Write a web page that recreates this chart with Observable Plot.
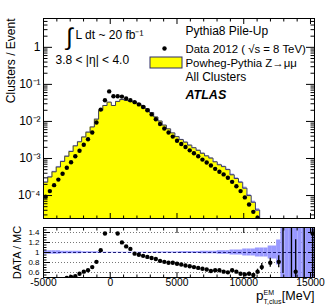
<!DOCTYPE html>
<html><head><meta charset="utf-8">
<script src="https://cdn.jsdelivr.net/npm/d3@7"></script>
<script src="https://cdn.jsdelivr.net/npm/@observablehq/plot@0.6"></script>
<style>
body{margin:0;background:#fff;}
#c{position:relative;width:329px;height:305px;background:#fff;}
#c svg{position:absolute;left:0;overflow:visible;}
</style></head><body><div id="c"></div>
<script>
// bin edges (MeV)
const binEdges = [-5000,-4682.5,-4365,-4047.5,-3730,-3412.5,-3095,-2777.5,-2460,-2142.5,-1825,-1507.5,-1190,-872.5,-555,-237.5,80,397.5,715,1032.5,1350,1667.5,1985,2302.5,2620,2937.5,3255,3572.5,3890,4207.5,4525,4842.5,5160,5477.5,5795,6112.5,6430,6747.5,7065,7382.5,7700,8017.5,8335,8652.5,8970,9287.5,9605,9922.5,10240,10557.5,10875,11192.5,11510,11827.5,12145,12462.5,12780,13097.5,13415,13732.5,14050,14367.5,14685,15002.5,15320];
// log10(Clusters / Event), data 2012
const dataLog10 = [-4.03,-3.88,-3.72,-3.57,-3.41,-3.25,-3.10,-2.94,-2.79,-2.63,
 -2.48,-2.30,-2.03,-1.68,-1.43,-1.19,-1.32,-1.32,-1.33,-1.38,
 -1.43,-1.48,-1.54,-1.61,-1.70,-1.81,-1.94,-2.07,-2.19,-2.30,
 -2.41,-2.52,-2.61,-2.69,-2.78,-2.86,-2.94,-3.03,-3.11,-3.19,
 -3.28,-3.36,-3.43,-3.52,-3.63,-3.75,-3.88,-4.05,-4.24,-4.44,
 -4.60,-4.90,null,-5.15,null,-5.44,-5.27,null,-5.44,-6.01,
 null,-5.72,null,-6.06];
// log10(Clusters / Event), Powheg-Pythia Z->mumu MC
const mcLog10 = [-3.64,-3.50,-3.36,-3.23,-3.08,-2.94,-2.81,-2.66,-2.55,-2.42,
 -2.29,-2.15,-1.94,-1.70,-1.57,-1.48,-1.57,-1.46,-1.41,-1.43,
 -1.46,-1.47,-1.52,-1.58,-1.66,-1.76,-1.88,-1.99,-2.10,-2.20,
 -2.31,-2.41,-2.49,-2.56,-2.64,-2.71,-2.78,-2.86,-2.93,-2.99,
 -3.09,-3.17,-3.22,-3.30,-3.44,-3.54,-3.64,-3.80,-4.00,-4.18,
 -4.39,-4.75,-4.90,-5.05,-5.20,-5.35,-5.50,-5.60,-5.70,-5.80,
 -5.90,-6.00,-6.10,-6.20];
// absolute uncertainty on DATA/MC
const ratioErr = [0.01,0.01,0.01,0.01,0.01,0.01,0.01,0.01,0.01,0.01,
 0.01,0.01,0.01,0.01,0.01,0.01,0.01,0.01,0.01,0.01,
 0.01,0.01,0.01,0.01,0.01,0.01,0.01,0.01,0.01,0.01,
 0.01,0.01,0.01,0.01,0.01,0.01,0.01,0.01,0.01,0.01,
 0.01,0.01,0.01,0.01,0.01,0.01,0.02,0.02,0.03,0.03,
 0.05,0.07,0,0.09,0,0.12,1.12,0,1.5,0.64,
 0,1.5,0,1.0];
// relative MC statistical uncertainty
const mcRelErr = [0.035,0.035,0.035,0.035,0.025,0.025,0.025,0.025,0.025,0.015,
 0.015,0.015,0.015,0.006,0.006,0.006,0.006,0.006,0.006,0.006,
 0.006,0.006,0.006,0.006,0.006,0.006,0.012,0.012,0.012,0.012,
 0.012,0.012,0.018,0.018,0.018,0.018,0.018,0.025,0.025,0.025,
 0.025,0.035,0.035,0.035,0.05,0.05,0.05,0.07,0.07,0.07,
 0.09,0.09,0.09,0.13,0.13,0.25,1,1,1,1,
 1,1,1,1];

const xMajor = [-5000,0,5000,10000,15000];
const xMinor = [-4000,-3000,-2000,-1000,1000,2000,3000,4000,6000,7000,8000,9000,11000,12000,13000,14000];
const yMajor = [1e-4,1e-3,1e-2,1e-1,1];
const yMinor = [3e-5,4e-5,5e-5,6e-5,7e-5,8e-5,9e-5,2e-4,3e-4,4e-4,5e-4,6e-4,7e-4,8e-4,9e-4,
 2e-3,3e-3,4e-3,5e-3,6e-3,7e-3,8e-3,9e-3,2e-2,3e-2,4e-2,5e-2,6e-2,7e-2,8e-2,9e-2,
 0.2,0.3,0.4,0.5,0.6,0.7,0.8,0.9,2,3,4,5];
const ratioMajor = [0.6,0.8,1,1.2,1.4];
const ratioMinor = [0.55,0.65,0.7,0.75,0.85,0.9,0.95,1.05,1.1,1.15,1.25,1.3,1.35,1.45];
const ratioGrid = [0.6,0.8,1.2,1.4];
const yDomain = [2.4e-5, 6];
const xDomain = [-5000, 15300];

const rows = dataLog10.map((v, i) => {
  const lo = binEdges[i], hi = binEdges[i+1];
  const mc = Math.pow(10, mcLog10[i]);
  const data = v == null ? null : Math.pow(10, v);
  return {lo, hi, c: (lo+hi)/2, data, mc, e: mcRelErr[i], ratio: data == null ? null : data/mc, rerr: ratioErr[i]};
});
const steps = rows.map(d => ({x: d.lo, y: d.mc})).concat([{x: binEdges[binEdges.length-1], y: rows[rows.length-1].mc}]);

const FONT = "'Liberation Sans', Arial, Helvetica, sans-serif";
function tx(values, anchor, size) {
  return Plot.axisX(values, {anchor, tickSize: size, dy: anchor === "bottom" ? -size : size, fill: "none", stroke: "black", label: null});
}
function ty(values, anchor, size) {
  return Plot.axisY(values, {anchor, tickSize: size, dx: anchor === "left" ? size : -size, fill: "none", stroke: "black", label: null});
}
const supers = {"-":"⁻","0":"⁰","1":"¹","2":"²","3":"³","4":"⁴","5":"⁵"};
const logFmt = d => d === 1 ? "1" : "10" + String(Math.round(Math.log10(d))).split("").map(c => supers[c]).join("");

const main = Plot.plot({
  width: 329, height: 222,
  marginLeft: 43, marginRight: 15, marginTop: 18, marginBottom: 4,
  style: {fontFamily: FONT, fontSize: "12px", color: "black", background: "transparent", overflow: "visible"},
  x: {domain: xDomain},
  y: {type: "log", domain: yDomain},
  marks: [
    Plot.areaY(steps, {x: "x", y1: yDomain[0], y2: "y", curve: "step-after", fill: "#ffff00", clip: true}),
    Plot.rect(rows.filter(d => d.e < 1), {x1: "lo", x2: "hi", y1: d => d.mc*(1-d.e), y2: d => d.mc*(1+d.e), fill: "#9494ff", fillOpacity: 0.85, clip: true}),
    Plot.line(steps, {x: "x", y: "y", curve: "step-after", stroke: "#3c3c5c", strokeWidth: 1, clip: true}),
    Plot.dot(rows.filter(d => d.data != null), {x: "c", y: "data", r: 2.2, fill: "black", stroke: "none", clip: true}),
    Plot.frame({stroke: "black"}),
    tx(xMajor, "bottom", 5), tx(xMinor, "bottom", 2.5),
    tx(xMajor, "top", 5), tx(xMinor, "top", 2.5),
    ty(yMajor, "left", 9), ty(yMinor, "left", 4.5),
    ty(yMajor, "right", 9), ty(yMinor, "right", 4.5),
    Plot.axisY(yMajor, {anchor: "left", tickSize: 0, tickPadding: 3, tickFormat: logFmt, fontSize: 12, stroke: "none", label: null}),
    // axis title
    Plot.text(["Clusters / Event"], {frameAnchor: "top-left", dx: -32, dy: 0, rotate: -90, textAnchor: "end", lineAnchor: "middle", fontSize: 12}),
    // annotations
    Plot.text(["∫"], {frameAnchor: "top-left", dx: 26, dy: 19, textAnchor: "middle", lineAnchor: "middle", fontSize: 24}),
    Plot.text(["L dt ~ 20 fb⁻¹"], {frameAnchor: "top-left", dx: 32, dy: 17, textAnchor: "start", lineAnchor: "middle", fontSize: 12}),
    Plot.text(["3.8 < |η| < 4.0"], {frameAnchor: "top-left", dx: 12, dy: 42, textAnchor: "start", lineAnchor: "middle", fontSize: 12}),
    // legend
    Plot.text(["Pythia8 Pile-Up"], {frameAnchor: "top-left", dx: 142, dy: 13, textAnchor: "start", lineAnchor: "middle", fontSize: 12}),
    Plot.dot([0], {frameAnchor: "top-left", dx: 121, dy: 30, r: 2.2, fill: "black"}),
    Plot.text(["Data 2012 ( √s = 8 TeV)"], {frameAnchor: "top-left", dx: 142, dy: 31, textAnchor: "start", lineAnchor: "middle", fontSize: 11.4}),
    Plot.rect([0], {insetLeft: 107, insetRight: 132, insetTop: 39, insetBottom: 150, fill: "#ffff00", stroke: "#2c2c66", strokeWidth: 1}),
    Plot.text(["Powheg-Pythia Z→μμ"], {frameAnchor: "top-left", dx: 142, dy: 45, textAnchor: "start", lineAnchor: "middle", fontSize: 11.4}),
    Plot.text(["All Clusters"], {frameAnchor: "top-left", dx: 142, dy: 59, textAnchor: "start", lineAnchor: "middle", fontSize: 12}),
    Plot.text(["ATLAS"], {frameAnchor: "top-left", dx: 142, dy: 76, textAnchor: "start", lineAnchor: "middle", fontSize: 12.5, fontWeight: "bold", fontStyle: "italic"})
  ]
});
main.style.top = "0px";

const ratioRows = rows.filter(d => d.ratio != null);
const lower = Plot.plot({
  width: 329, height: 83,
  marginLeft: 43, marginRight: 15, marginTop: 5, marginBottom: 28,
  style: {fontFamily: FONT, fontSize: "12px", color: "black", background: "transparent", overflow: "visible"},
  x: {domain: xDomain},
  y: {domain: [0.5, 1.5]},
  marks: [
    Plot.ruleY(ratioGrid, {stroke: "#777", strokeDasharray: "1,2", strokeWidth: 1}),
    Plot.rect(rows, {x1: "lo", x2: "hi", y1: d => 1 - d.e, y2: d => 1 + d.e, fill: "#9999ff", clip: true}),
    Plot.ruleY([1], {stroke: "#1e1e7a", strokeDasharray: "3,2", strokeWidth: 1}),
    Plot.ruleX(ratioRows, {x: "c", y1: d => d.ratio - d.rerr, y2: d => d.ratio + d.rerr, stroke: "black", strokeWidth: 1.3, clip: true}),
    Plot.dot(ratioRows, {x: "c", y: "ratio", r: 2.2, fill: "black", stroke: "none", clip: true}),
    Plot.frame({stroke: "black"}),
    tx(xMajor, "bottom", 5), tx(xMinor, "bottom", 2.5),
    tx(xMajor, "top", 5), tx(xMinor, "top", 2.5),
    ty(ratioMajor, "left", 7), ty(ratioMinor, "left", 3.5),
    ty(ratioMajor, "right", 7), ty(ratioMinor, "right", 3.5),
    Plot.axisY(ratioMajor, {anchor: "left", tickSize: 0, tickPadding: 4, tickFormat: d => String(d), fontSize: 8, stroke: "none", label: null}),
    Plot.axisX(xMajor, {anchor: "bottom", tickSize: 0, tickPadding: 1, tickFormat: d => String(d), fontSize: 10.3, stroke: "none", label: null}),
    Plot.text(["DATA / MC"], {frameAnchor: "left", dx: -26, rotate: -90, textAnchor: "middle", lineAnchor: "middle", fontSize: 11}),
    Plot.text(["p"], {frameAnchor: "bottom-right", dx: -58.5, dy: 22, textAnchor: "start", lineAnchor: "bottom", fontSize: 13.5}),
    Plot.text(["EM"], {frameAnchor: "bottom-right", dx: -51, dy: 17, textAnchor: "start", lineAnchor: "bottom", fontSize: 7}),
    Plot.text(["T,clus"], {frameAnchor: "bottom-right", dx: -51, dy: 26.5, textAnchor: "start", lineAnchor: "bottom", fontSize: 7}),
    Plot.text(["[MeV]"], {frameAnchor: "bottom-right", dx: 0, dy: 22, textAnchor: "end", lineAnchor: "bottom", fontSize: 12.5})
  ]
});
lower.style.top = "222px";

document.getElementById("c").append(main, lower);
</script></body></html>
